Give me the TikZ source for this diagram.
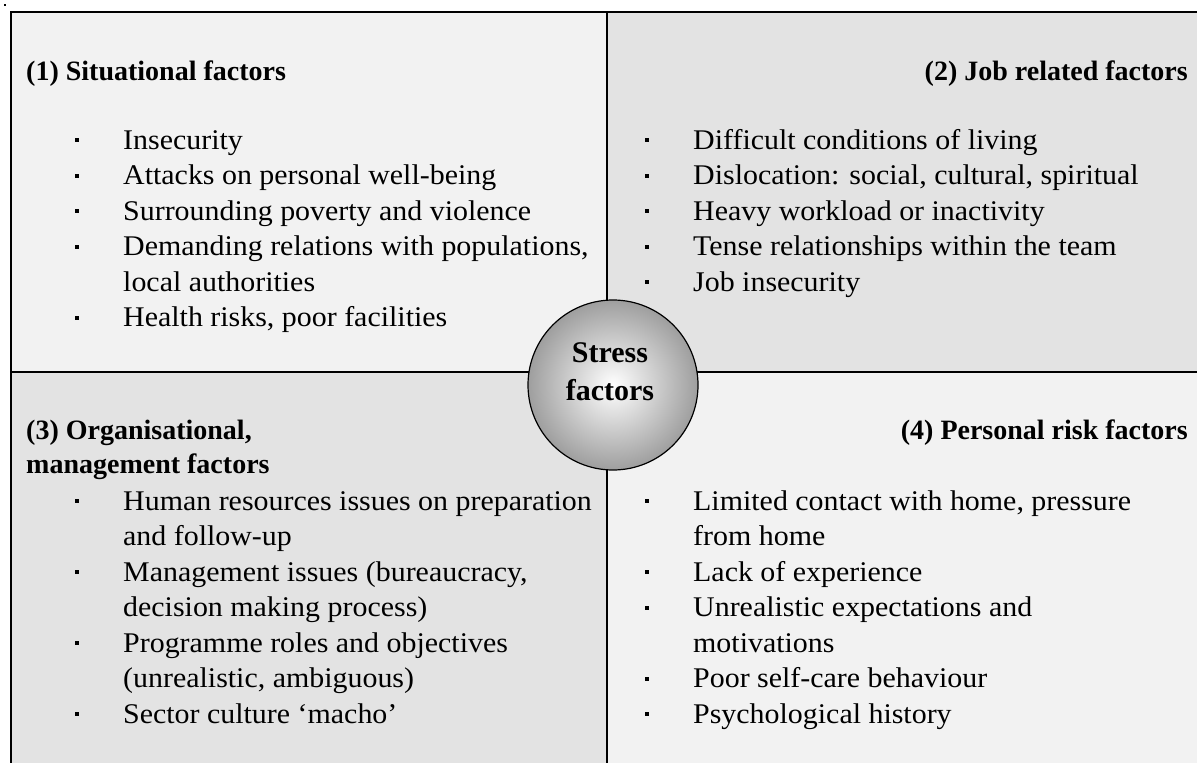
\documentclass[tikz,border=0pt]{standalone}
\usepackage{fontspec}
\setmainfont{Liberation Serif}
\newfontfamily\bodyfont[FakeStretch=1.05]{Liberation Serif}
\begin{document}
\begin{tikzpicture}[x=1pt,y=-1pt,
  frame/.style={line width=2.2pt, black},
  lightq/.style={fill=black!5},
  darkq/.style={fill=black!11},
  txt/.style={anchor=base west, inner sep=0pt, font=\bodyfont\fontsize{28.5}{34}\selectfont},
  hd/.style={inner sep=0pt, font=\fontsize{28}{34}\selectfont\bfseries},
  cen/.style={inner sep=0pt, anchor=base, font=\fontsize{30}{36}\selectfont\bfseries},
  bul/.style={fill=black, inner sep=0pt, minimum size=4pt, rectangle},
  core/.style={circle, draw=black, line width=1.2pt, minimum size=170pt, inner sep=0pt, inner color=white, outer color=black!38}]
\useasboundingbox (0,0) rectangle (1197,763);
% quadrants
\fill[lightq] (11,12) rectangle (607,372);
\fill[darkq] (607,12) rectangle (1197,372);
\fill[darkq] (11,372) rectangle (607,763);
\fill[lightq] (607,372) rectangle (1197,763);
\fill[black] (4,4) rectangle (6,6);
% frame lines
\coordinate (tl) at (11,12);
\coordinate (bl) at (11,763);
\coordinate (tr) at (1197,12);
\coordinate (ml) at (11,372);
\coordinate (mr) at (1197,372);
\coordinate (mt) at (607,12);
\coordinate (mb) at (607,763);
\draw[frame] (bl) -- (tl) -- (tr);
\draw[frame] (ml) -- (mr);
\draw[frame] (mt) -- (mb);
% centre
\node[core] (c) at (613,385) {};
\node[cen] (c1) at (610,362) {Stress};
\node[cen] (c2) at (610,400) {factors};
% (1)
\node[hd, anchor=base west] (h1) at (26,80) {(1) Situational factors};
\node[bul] (b11) at (77,140) {};
\node[txt] (t11) at (123,149) {Insecurity};
\node[bul] (b12) at (77,175.5) {};
\node[txt] (t12) at (123,184.5) {Attacks on personal well-being};
\node[bul] (b13) at (77,211) {};
\node[txt] (t13) at (123,220) {Surrounding poverty and violence};
\node[bul] (b14) at (77,246.5) {};
\node[txt] (t14) at (123,255.5) {Demanding relations with populations,};
\node[txt] (t14b) at (123,291) {local authorities};
\node[bul] (b15) at (77,317.5) {};
\node[txt] (t15) at (123,326.5) {Health risks, poor facilities};
% (2)
\node[hd, anchor=base east] (h2) at (1188,80) {(2) Job related factors};
\node[bul] (b21) at (647,140) {};
\node[txt] (t21) at (693,149) {Difficult conditions of living};
\node[bul] (b22) at (647,175.5) {};
\node[txt] (t22) at (693,184.5) {Dislocation: social, cultural, spiritual};
\node[bul] (b23) at (647,211) {};
\node[txt] (t23) at (693,220) {Heavy workload or inactivity};
\node[bul] (b24) at (647,246.5) {};
\node[txt] (t24) at (693,255.5) {Tense relationships within the team};
\node[bul] (b25) at (647,282) {};
\node[txt] (t25) at (693,291) {Job insecurity};
% (3)
\node[hd, anchor=base west] (h3a) at (26,439) {(3) Organisational,};
\node[hd, anchor=base west] (h3b) at (26,473) {management factors};
\node[bul] (b31) at (77,501) {};
\node[txt] (t31) at (123,510) {Human resources issues on preparation};
\node[txt] (t31b) at (123,545.5) {and follow-up};
\node[bul] (b32) at (77,572) {};
\node[txt] (t32) at (123,581) {Management issues (bureaucracy,};
\node[txt] (t32b) at (123,616.5) {decision making process)};
\node[bul] (b33) at (77,643) {};
\node[txt] (t33) at (123,652) {Programme roles and objectives};
\node[txt] (t33b) at (123,687.5) {(unrealistic, ambiguous)};
\node[bul] (b34) at (77,714) {};
\node[txt] (t34) at (123,723) {Sector culture ‘macho’};
% (4)
\node[hd, anchor=base east] (h4) at (1188,439) {(4) Personal risk factors};
\node[bul] (b41) at (647,501) {};
\node[txt] (t41) at (693,510) {Limited contact with home, pressure};
\node[txt] (t41b) at (693,545.5) {from home};
\node[bul] (b42) at (647,572) {};
\node[txt] (t42) at (693,581) {Lack of experience};
\node[bul] (b43) at (647,607.5) {};
\node[txt] (t43) at (693,616.5) {Unrealistic expectations and};
\node[txt] (t43b) at (693,652) {motivations};
\node[bul] (b44) at (647,678.5) {};
\node[txt] (t44) at (693,687.5) {Poor self-care behaviour};
\node[bul] (b45) at (647,714) {};
\node[txt] (t45) at (693,723) {Psychological history};
\end{tikzpicture}
\end{document}
